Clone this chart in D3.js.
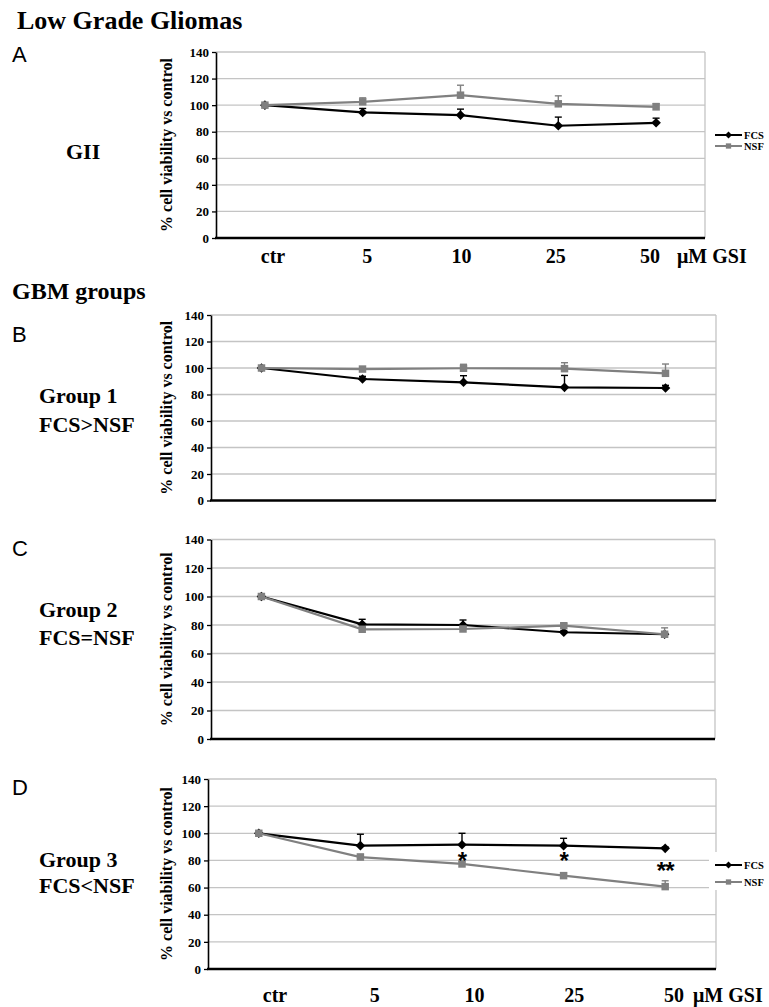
<!DOCTYPE html>
<html>
<head>
<meta charset="utf-8">
<script src="https://cdn.jsdelivr.net/npm/d3@7"></script>
<style>
  body { margin: 0; background: #fff; }
  text { font-family: "Liberation Serif", "Times New Roman", serif; font-weight: bold; }
  .letter { font-family: "Liberation Sans", Arial, sans-serif; font-weight: normal; }
</style>
</head>
<body>
<div id="chart"></div>
<script>
// x categories and y ticks shared by all panels
const categories = ["ctr", "5", "10", "25", "50"];
const yTicks = [0, 20, 40, 60, 80, 100, 120, 140];
const seriesNames = ["FCS", "NSF"];

// A - low grade gliomas (GII)
const giiFcs = [100, 94.5, 92.5, 84.5, 86.7];
const giiFcsErr = [0, 3, 4.5, 6.5, 3.5];
const giiNsf = [100, 102.5, 107.5, 101, 98.7];
const giiNsfErr = [0, 3, 7.5, 6, 2.5];

// B - group 1
const g1Fcs = [100, 91.7, 89.2, 85.4, 84.9];
const g1FcsErr = [0, 2, 5, 9, 2];
const g1Nsf = [100, 99.2, 99.8, 99.5, 96];
const g1NsfErr = [0, 1.5, 3, 4.5, 7];

// C - group 2
const g2Fcs = [100, 80.5, 80, 74.9, 73.5];
const g2FcsErr = [0, 3.5, 3.5, 1, 1];
const g2Nsf = [100, 77, 77.2, 79.5, 73.5];
const g2NsfErr = [0, 1, 1, 1.5, 4.5];

// D - group 3
const g3Fcs = [100, 90.9, 91.6, 90.9, 88.9];
const g3FcsErr = [0, 8.4, 8.4, 5.4, 1];
const g3Nsf = [100, 82.5, 77.4, 68.8, 60.7];
const g3NsfErr = [0, 2, 1.5, 2, 4.3];
const g3Stars = ["", "", "*", "*", "**"];
const g3StarLevel = [0, 0, 83.3, 83.3, 75.9];

const W = 769, H = 1007;
const colors = { FCS: "#000000", NSF: "#808080" };
const gridColor = "#c4c4c4";

const svg = d3.select("#chart").append("svg")
    .attr("width", W)
    .attr("height", H)
    .style("background", "#fff");

svg.append("text").attr("x", 17).attr("y", 29).style("font-size", "26px").text("Low Grade Gliomas");
svg.append("text").attr("x", 12).attr("y", 299).style("font-size", "24px").text("GBM groups");

const panels = [
    { letter: "A", letterY: 62, left: 216, right: 705, top: 52, bottom: 238,
      group: ["GII"], groupX: 66, groupY: [159],
      fcs: giiFcs, fcsErr: giiFcsErr, nsf: giiNsf, nsfErr: giiNsfErr,
      xLabels: { range: [273, 650], y: 263, unitX: 677 },
      legend: { x: 715, y: [135, 146] } },
    { letter: "B", letterY: 342, left: 211, right: 716, top: 315, bottom: 500.5,
      group: ["Group 1", "FCS>NSF"], groupX: 39, groupY: [403, 432],
      fcs: g1Fcs, fcsErr: g1FcsErr, nsf: g1Nsf, nsfErr: g1NsfErr },
    { letter: "C", letterY: 556, left: 211, right: 715, top: 539.5, bottom: 739,
      group: ["Group 2", "FCS=NSF"], groupX: 39, groupY: [617, 645],
      fcs: g2Fcs, fcsErr: g2FcsErr, nsf: g2Nsf, nsfErr: g2NsfErr },
    { letter: "D", letterY: 795, left: 208, right: 716, top: 779, bottom: 969,
      group: ["Group 3", "FCS<NSF"], groupX: 39, groupY: [867, 893],
      fcs: g3Fcs, fcsErr: g3FcsErr, nsf: g3Nsf, nsfErr: g3NsfErr,
      stars: g3Stars, starLevel: g3StarLevel,
      xLabels: { range: [275, 674], y: 1002, unitX: 693 },
      legend: { x: 715, y: [865, 882], box: [709, 852, 60, 38] } }
];

const diamond = d3.symbol(d3.symbolSquare, 46);
const square = d3.symbol(d3.symbolSquare, 56);

function marker(sel, name, cx, cy) {
    sel.append("path")
        .attr("d", name === "FCS" ? diamond() : square())
        .attr("fill", colors[name])
        .attr("transform", name === "FCS"
            ? `translate(${cx},${cy}) rotate(45)`
            : `translate(${cx},${cy})`);
}

function drawPanel(p) {
    const g = svg.append("g");
    const x = d3.scaleBand().domain(categories).range([p.left, p.right]);
    const y = d3.scaleLinear().domain([0, 140]).range([p.bottom, p.top]);
    const cx = d => x(d) + x.bandwidth() / 2;

    // grid and frame
    g.selectAll(".grid").data(yTicks.filter(t => t > 0)).enter()
        .append("line")
        .attr("x1", p.left).attr("x2", p.right)
        .attr("y1", d => y(d)).attr("y2", d => y(d))
        .attr("stroke", gridColor).attr("stroke-width", 1.3);
    g.append("line")
        .attr("x1", p.right).attr("x2", p.right)
        .attr("y1", y(140)).attr("y2", y(0))
        .attr("stroke", gridColor).attr("stroke-width", 1.3);

    // y axis
    const yAxis = d3.axisLeft(y).tickValues(yTicks).tickSize(4).tickSizeOuter(0).tickPadding(3);
    const ya = g.append("g")
        .attr("transform", `translate(${p.left},0)`)
        .call(yAxis)
        .attr("font-family", "Liberation Serif, serif")
        .attr("font-size", 13);
    ya.select(".domain").attr("stroke", "#000").attr("stroke-width", 1.6);
    ya.selectAll(".tick line").attr("stroke", "#000").attr("stroke-width", 1.3);
    ya.selectAll(".tick text")
        .style("font-family", "Liberation Serif, serif")
        .style("font-weight", "bold")
        .style("font-size", "13px")
        .attr("fill", "#000");

    // x axis line
    g.append("line")
        .attr("x1", p.left - 1).attr("x2", p.right)
        .attr("y1", y(0)).attr("y2", y(0))
        .attr("stroke", "#000").attr("stroke-width", 2.6);

    // y axis title
    g.append("text")
        .attr("transform", `translate(172,${(y(0) + y(140)) / 2}) rotate(-90)`)
        .attr("text-anchor", "middle")
        .style("font-size", "16px")
        .text("% cell viability vs control");

    // panel letter and group labels
    svg.append("text").attr("class", "letter")
        .attr("x", 12).attr("y", p.letterY)
        .style("font-size", "22px")
        .text(p.letter);
    p.group.forEach((t, i) => {
        svg.append("text")
            .attr("x", p.groupX).attr("y", p.groupY[i])
            .style("font-size", "22px")
            .text(t);
    });

    // series
    const series = [
        { name: "FCS", values: p.fcs, err: p.fcsErr },
        { name: "NSF", values: p.nsf, err: p.nsfErr }
    ];
    const line = d3.line()
        .x((d, i) => cx(categories[i]))
        .y(d => y(d));

    series.forEach(s => {
        const sg = g.append("g");
        // plus-only error bars
        s.values.forEach((v, i) => {
            if (!s.err[i]) return;
            const xx = cx(categories[i]);
            sg.append("line")
                .attr("x1", xx).attr("x2", xx)
                .attr("y1", y(v)).attr("y2", y(v + s.err[i]))
                .attr("stroke", colors[s.name]).attr("stroke-width", 1.4);
            sg.append("line")
                .attr("x1", xx - 3.5).attr("x2", xx + 3.5)
                .attr("y1", y(v + s.err[i])).attr("y2", y(v + s.err[i]))
                .attr("stroke", colors[s.name]).attr("stroke-width", 1.4);
        });
        sg.append("path")
            .attr("d", line(s.values))
            .attr("fill", "none")
            .attr("stroke", colors[s.name])
            .attr("stroke-width", 2.2);
        s.values.forEach((v, i) => marker(sg, s.name, cx(categories[i]), y(v)));
    });

    // significance marks
    if (p.stars) {
        p.stars.forEach((s, i) => {
            if (!s) return;
            g.append("text")
                .attr("x", cx(categories[i]))
                .attr("y", y(p.starLevel[i]) + 13)
                .attr("text-anchor", "middle")
                .style("font-family", "Liberation Sans, Arial, sans-serif")
                .style("font-size", "24px")
                .style("letter-spacing", "-1px")
                .text(s);
        });
    }

    // x labels
    if (p.xLabels) {
        const lx = d3.scalePoint().domain(categories).range(p.xLabels.range);
        g.selectAll(".xl").data(categories).enter()
            .append("text")
            .attr("x", d => lx(d))
            .attr("y", p.xLabels.y)
            .attr("text-anchor", "middle")
            .style("font-size", "20px")
            .text(d => d);
        g.append("text")
            .attr("x", p.xLabels.unitX)
            .attr("y", p.xLabels.y)
            .style("font-size", "20px")
            .text("\u03bcM GSI");
    }

    // legend
    if (p.legend) {
        const lg = svg.append("g");
        if (p.legend.box) {
            const b = p.legend.box;
            lg.append("rect").attr("x", b[0]).attr("y", b[1])
                .attr("width", b[2]).attr("height", b[3]).attr("fill", "#fff");
        }
        seriesNames.forEach((n, i) => {
            const ly = p.legend.y[i];
            lg.append("line")
                .attr("x1", p.legend.x).attr("x2", p.legend.x + 27)
                .attr("y1", ly).attr("y2", ly)
                .attr("stroke", colors[n]).attr("stroke-width", 2);
            lg.append("path")
                .attr("d", d3.symbol(d3.symbolSquare, n === "FCS" ? 24 : 28)())
                .attr("fill", colors[n])
                .attr("transform", `translate(${p.legend.x + 13.5},${ly})` + (n === "FCS" ? " rotate(45)" : ""));
            lg.append("text")
                .attr("x", p.legend.x + 29)
                .attr("y", ly + 3.5)
                .style("font-size", "10.5px")
                .text(n);
        });
    }
}

panels.forEach(drawPanel);
</script>
</body>
</html>
